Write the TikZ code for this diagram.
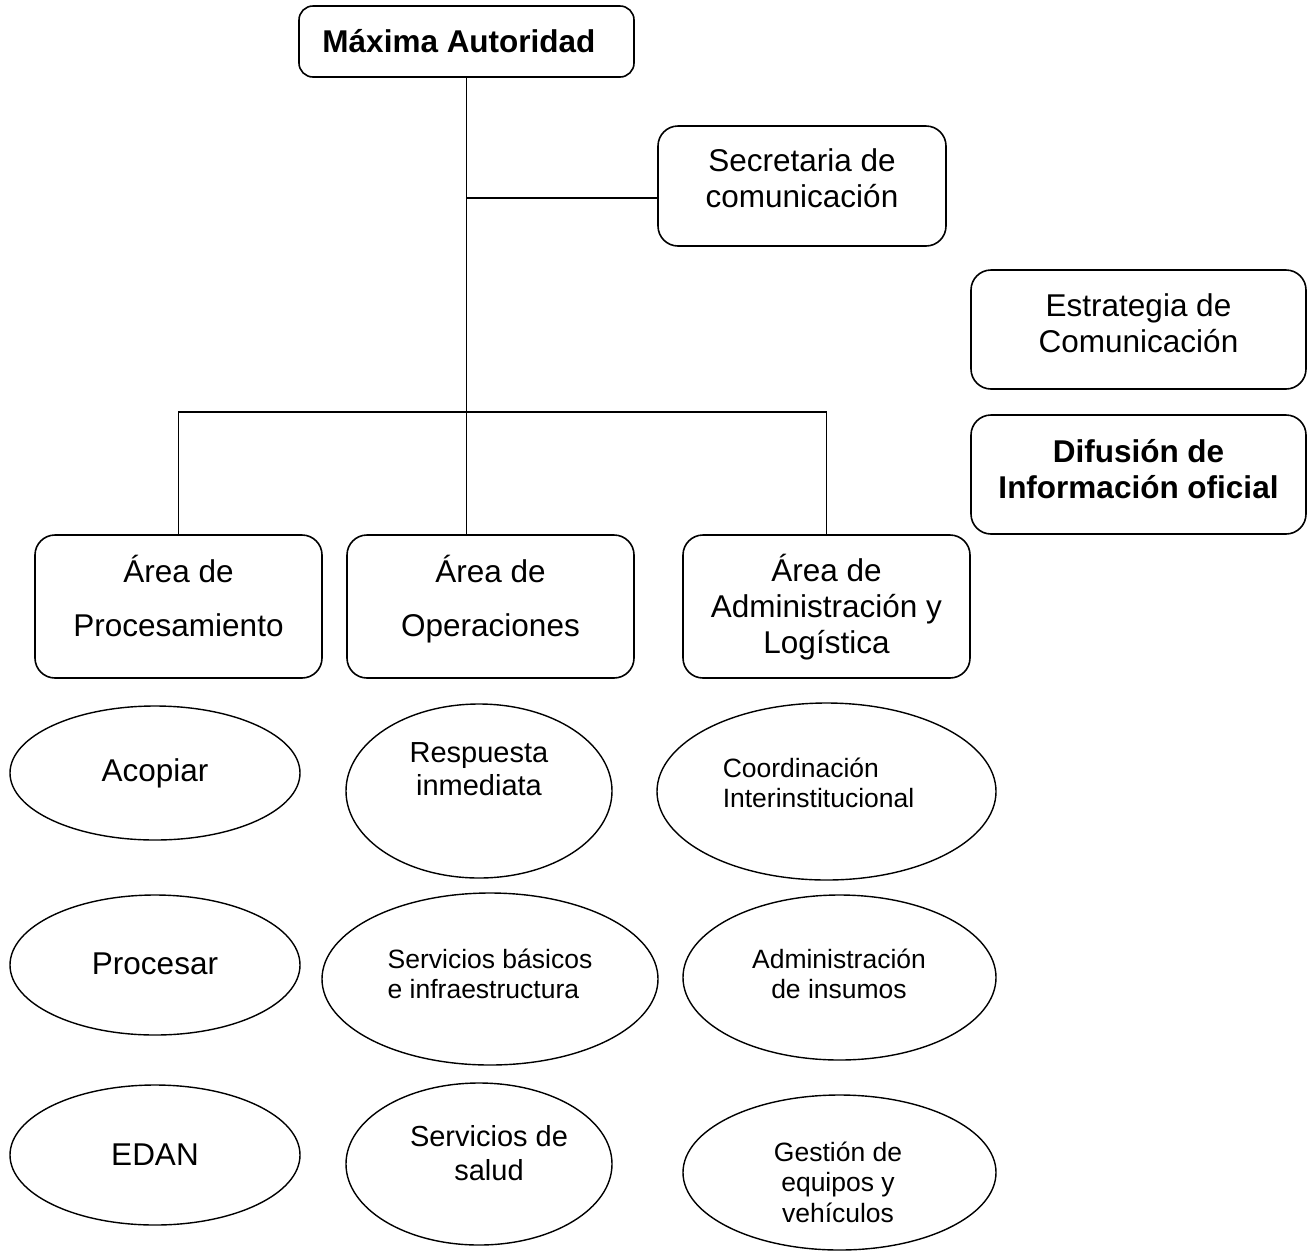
\documentclass[tikz,border=0pt]{standalone}
\usepackage{fontspec}
\setmainfont{Liberation Sans}
\usetikzlibrary{shapes.geometric}
\begin{document}
\begin{tikzpicture}[x=1pt,y=-1pt,
  box/.style={draw, line width=1.6pt, rounded corners=20pt, inner sep=0pt},
  oval/.style={draw, ellipse, line width=1.4pt, inner sep=0pt},
  link/.style={line width=1.6pt},
  txtL/.style={align=center, inner sep=0pt, font=\fontsize{31.5}{36}\selectfont},
  txtB/.style={align=center, inner sep=0pt, font=\bfseries\fontsize{31.5}{36}\selectfont},
  txtM/.style={align=center, inner sep=0pt, font=\fontsize{29}{33.5}\selectfont},
  txtS/.style={align=center, inner sep=0pt, font=\fontsize{26.5}{30.5}\selectfont}]
\useasboundingbox (0,0) rectangle (1309,1254);

% top level
\node[box, rounded corners=14pt, minimum width=335pt, minimum height=71pt] (maxima) at (466.5,41.5) {};
\node[txtB] (maximaT) at (459,41) {Máxima Autoridad};

\node[box, minimum width=288pt, minimum height=120pt] (secre) at (802,186) {};
\node[txtL] (secreT) at (802,178) {Secretaria de\\comunicación};

% side boxes
\node[box, minimum width=335pt, minimum height=119pt] (estra) at (1138.5,329.5) {};
\node[txtL] (estraT) at (1138.5,323) {Estrategia de\\Comunicación};

\node[box, minimum width=335pt, minimum height=119pt] (difus) at (1138.5,474.5) {};
\node[txtB] (difusT) at (1138.5,469) {Difusión de\\Información oficial};

% areas
\node[box, minimum width=287pt, minimum height=143pt] (proc) at (178.5,606.5) {};
\node[txtL] (procT) at (178.5,596) {Área de\\[18pt]Procesamiento};

\node[box, minimum width=287pt, minimum height=143pt] (oper) at (490.5,606.5) {};
\node[txtL] (operT) at (490.5,599) {Área de\\[18pt]Operaciones};

\node[box, minimum width=287pt, minimum height=143pt] (admin) at (826.5,606.5) {};
\node[txtL] (adminT) at (826.5,607) {Área de\\Administración y\\Logística};

% connectors
\coordinate (bar) at (467,412);
\coordinate (branch) at ([yshift=-12pt]secre.west);
\draw[link] (maxima.south) -- (maxima.south |- oper.north);
\draw[link] (maxima.south |- branch) -- (branch);
\draw[link] (proc.north) -- (proc.north |- bar) -- (admin.north |- bar) -- (admin.north);

% functions of Procesamiento
\node[oval, minimum width=290pt, minimum height=134pt] (acop) at (155,773) {};
\node[txtL] (acopT) at (155,773) {Acopiar};
\node[oval, minimum width=290pt, minimum height=140pt] (proce) at (155,965) {};
\node[txtL] (proceT) at (155,964) {Procesar};
\node[oval, minimum width=290pt, minimum height=140pt] (edan) at (155,1155) {};
\node[txtL] (edanT) at (155,1155) {EDAN};

% functions of Operaciones
\node[oval, minimum width=266pt, minimum height=174pt] (resp) at (479,791) {};
\node[txtM] (respT) at (479,769) {Respuesta\\inmediata};
\node[oval, minimum width=336pt, minimum height=172pt] (serv) at (490,979) {};
\node[txtS, align=left] (servT) at (490,974) {Servicios básicos\\e infraestructura};
\node[oval, minimum width=266pt, minimum height=162pt] (salud) at (479,1164) {};
\node[txtM] (saludT) at (489,1153) {Servicios de\\salud};

% functions of Administración y Logística
\node[oval, minimum width=339pt, minimum height=177pt] (coord) at (826.5,791.5) {};
\node[txtS, align=left] (coordT) at (818.5,783) {Coordinación\\Interinstitucional};
\node[oval, minimum width=313pt, minimum height=165pt] (insum) at (839.5,977.5) {};
\node[txtS] (insumT) at (839,974) {Administración\\de insumos};
\node[oval, minimum width=313pt, minimum height=155pt] (gest) at (839.5,1172.5) {};
\node[txtS] (gestT) at (838,1182) {Gestión de\\equipos y\\vehículos};
\end{tikzpicture}
\end{document}
